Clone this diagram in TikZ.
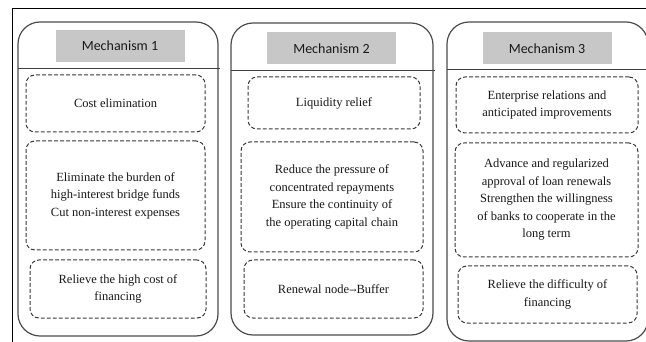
\documentclass[tikz,border=0pt]{standalone}
\usepackage{fontspec}
\newfontfamily\bodyfont{Liberation Serif}
\newfontfamily\hdrfont{Carlito}
\newfontfamily\arrowfont{DejaVu Serif}
\begin{document}
\begin{tikzpicture}[x=1pt,y=-1pt,
  panel/.style={draw=black!70,line width=1.2pt,rounded corners=22pt},
  divider/.style={draw=black!75,line width=1pt},
  hdr/.style={fill=black!22,draw=none,minimum width=129pt,minimum height=32pt,font=\hdrfont\fontsize{14}{16}\selectfont,text=black!90},
  dbox/.style={draw=black!78,line width=1pt,dash pattern=on 3.8pt off 2.2pt,rounded corners=9pt,align=center,font=\bodyfont\fontsize{12.5}{17.5}\selectfont,text=black!90,inner sep=0pt},
  frame/.style={draw=black,line width=1pt}]
\useasboundingbox (0,0) rectangle (646,342);
\clip (0,0) rectangle (646,342);
\fill[white] (0,0) rectangle (646,342);
% outer frame
\coordinate (fa) at (12,342);
\coordinate (fb) at (12,9);
\coordinate (fc) at (646,9);
\draw[frame] (fa) -- (fb) -- (fc);
% panels
\draw[panel] (18,22) rectangle (218,336);
\draw[panel] (231,23) rectangle (433,335);
\draw[panel] (447,22) rectangle (648,341);
% dividers
\coordinate (d1a) at (18,69); \coordinate (d1b) at (220,69);
\coordinate (d2a) at (231,71); \coordinate (d2b) at (435,71);
\coordinate (d3a) at (447,70); \coordinate (d3b) at (646,70);
\draw[divider] (d1a) -- (d1b);
\draw[divider] (d2a) -- (d2b);
\draw[divider] (d3a) -- (d3b);
% headers
\node[hdr] (h1) at (120,46) {Mechanism 1};
\node[hdr] (h2) at (331.5,48.5) {Mechanism 2};
\node[hdr] (h3) at (547,48.5) {Mechanism 3};
% panel 1 boxes
\node[dbox,minimum width=179pt,minimum height=57pt] (a1) at (115.5,103.5) {Cost elimination};
\node[dbox,minimum width=179pt,minimum height=109pt] (a2) at (115.5,195.5) {Eliminate the burden of\\high-interest bridge funds\\Cut non-interest expenses};
\node[dbox,minimum width=176pt,minimum height=58pt] (a3) at (118,289) {Relieve the high cost of\\financing};
% panel 2 boxes
\node[dbox,minimum width=172pt,minimum height=52pt] (b1) at (334,103) {Liquidity relief};
\node[dbox,minimum width=182pt,minimum height=110pt] (b2) at (332,197) {Reduce the pressure of\\concentrated repayments\\Ensure the continuity of\\the operating capital chain};
\node[dbox,minimum width=179pt,minimum height=58pt] (b3) at (333.5,289) {Renewal node{\arrowfont\fontsize{9}{10}\selectfont→}Buffer};
% panel 3 boxes
\node[dbox,minimum width=182pt,minimum height=56pt] (c1) at (547,105) {Enterprise relations and\\anticipated improvements};
\node[dbox,minimum width=183pt,minimum height=114pt] (c2) at (546.5,200) {Advance and regularized\\approval of loan renewals\\Strengthen the willingness\\of banks to cooperate in the\\long term};
\node[dbox,minimum width=179pt,minimum height=57pt] (c3) at (547.5,294.5) {Relieve the difficulty of\\financing};
\end{tikzpicture}
\end{document}
